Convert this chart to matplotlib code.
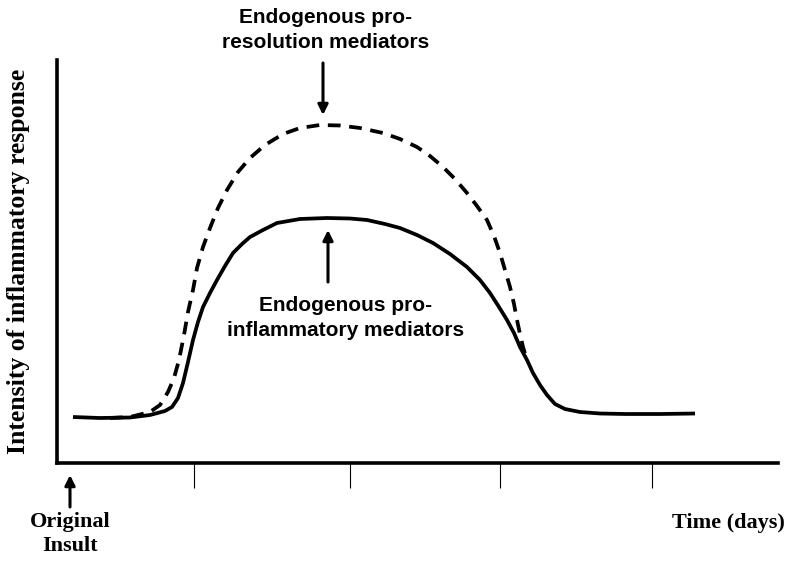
import numpy as np
import matplotlib
matplotlib.use("Agg")
import matplotlib.pyplot as plt

# curves (x: time units, y: intensity units)
pro_inflam_x = [16, 43, 73, 93, 108, 115, 121, 126, 131, 136, 141, 146, 153, 160, 168, 176,
                185, 193, 206, 220, 243, 270, 293, 310, 328, 343, 360, 376, 393, 410, 423,
                433, 442, 450, 457, 463, 470, 476, 483, 490, 498, 508, 523, 543, 568, 603, 638]
pro_inflam_y = [46, 45, 45.5, 48, 52, 56, 65, 80, 101, 123, 141, 156, 170, 183, 197, 210,
                219, 226, 233, 240, 244, 245, 244.5, 243, 239, 235, 228, 220, 209, 196, 183,
                170, 156, 143, 130, 116, 103, 90, 78, 68, 59, 54, 51, 49.5, 49, 49, 49.5]

pro_resol_x = [53, 73, 93, 103, 111, 117, 122, 127, 131, 136, 140, 146, 153, 161, 170, 181,
               193, 208, 226, 243, 263, 283, 303, 326, 343, 360, 373, 386, 398, 410, 420,
               430, 437, 443, 448, 453, 457, 460, 463, 466, 470]
pro_resol_y = [45, 46, 51, 58, 71, 85, 103, 128, 151, 173, 195, 216, 235, 255, 273, 291,
               305, 318, 329, 335, 338, 337.5, 335, 330, 324, 316, 307, 296, 284, 270, 257,
               243, 227, 210, 193, 176, 159, 143, 129, 116, 103]

tick_pos = [137, 293, 443, 595]

fig = plt.figure(figsize=(8, 5.61), dpi=100)
ax = fig.add_axes([57 / 800, 98 / 561, 721 / 800, 403 / 561])
ax.set_xlim(0, 721)
ax.set_ylim(0, 403)

ax.plot(pro_inflam_x, pro_inflam_y, color="black", lw=2.7,
        solid_joinstyle="round", solid_capstyle="butt")
ax.plot(pro_resol_x, pro_resol_y, color="black", lw=2.7, dashes=(3.4, 2.3),
        dash_joinstyle="round", dash_capstyle="butt")

for s in ["top", "right"]:
    ax.spines[s].set_visible(False)
for s in ["left", "bottom"]:
    ax.spines[s].set_linewidth(2.6)
ax.set_yticks([])
ax.set_xticks(tick_pos)
ax.set_xticklabels([])
ax.tick_params(axis="x", direction="out", length=18, width=0.8, color="black")

sans = ["Liberation Sans", "DejaVu Sans"]
serif = ["Liberation Serif", "DejaVu Serif"]
arrow = dict(arrowstyle="-|>", color="black", lw=2.2, mutation_scale=15,
             shrinkA=0, shrinkB=0)

ax.text(269, 433, "Endogenous pro-\nresolution mediators", ha="center", va="center",
        fontsize=15, fontweight="bold", family=sans, linespacing=1.45, clip_on=False)
ax.annotate("", xy=(266, 348), xytext=(266, 400), arrowprops=arrow, annotation_clip=False)

ax.text(289, 145, "Endogenous pro-\ninflammatory mediators", ha="center", va="center",
        fontsize=15, fontweight="bold", family=sans, linespacing=1.45)
ax.annotate("", xy=(271, 233), xytext=(271, 181), arrowprops=arrow)

ax.text(-38, 202, "Intensity of inflammatory response", rotation=90, ha="center",
        va="center", fontsize=18.5, fontweight="bold", family=serif, clip_on=False)
ax.annotate("", xy=(13, -12), xytext=(13, -44), arrowprops=arrow, annotation_clip=False)
ax.text(13, -71, "Original\nInsult", ha="center", va="center", fontsize=16,
        fontweight="bold", family=serif, linespacing=1.3, clip_on=False)
ax.text(671, -60, "Time (days)", ha="center", va="center", fontsize=16,
        fontweight="bold", family=serif, clip_on=False)

fig.savefig("out.png", dpi=100)
